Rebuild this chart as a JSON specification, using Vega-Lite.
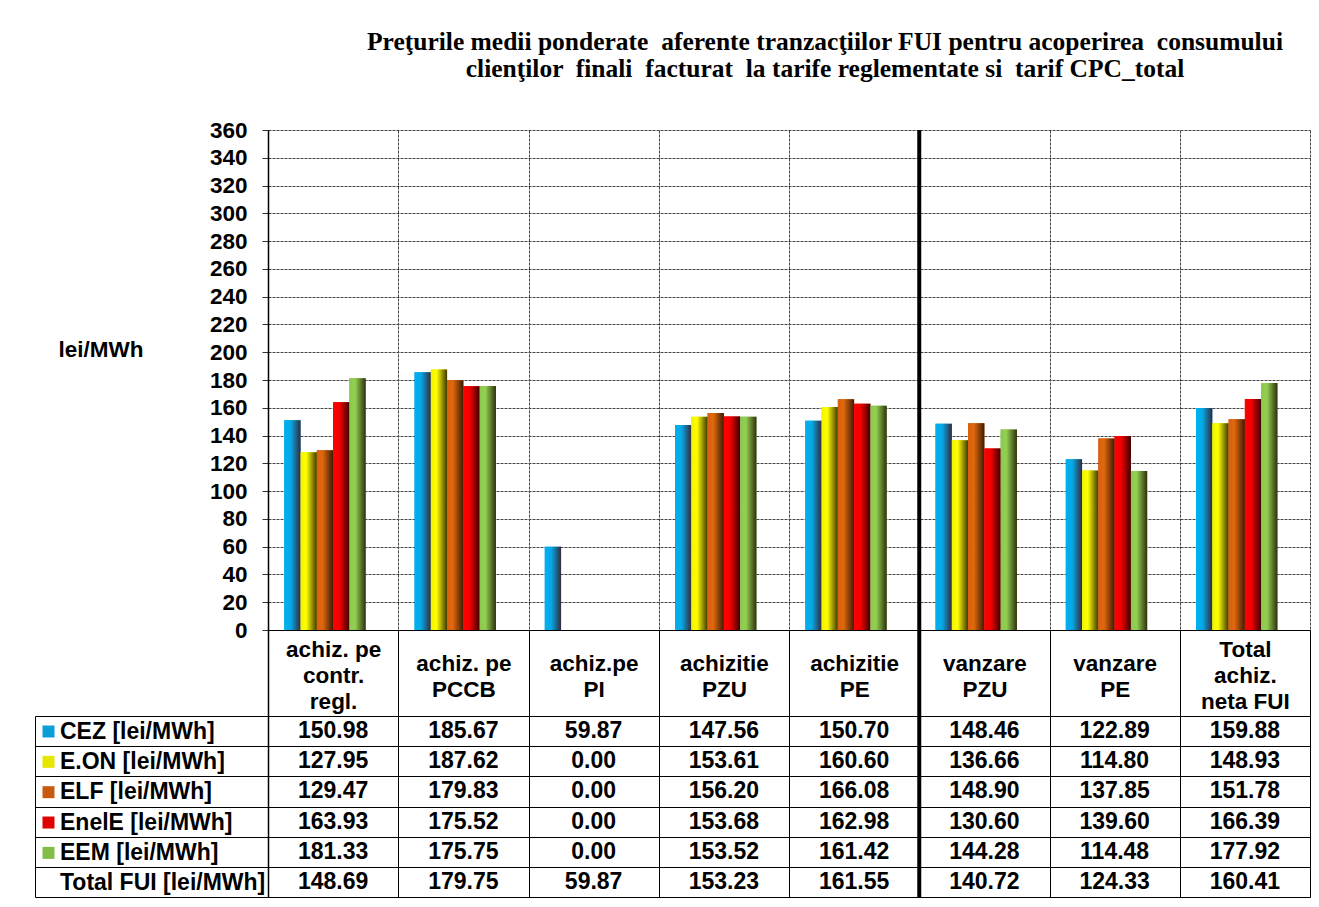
{
  "$schema": "https://vega.github.io/schema/vega-lite/v6.json",
  "width": 1042,
  "height": 767,
  "autosize": {"type": "none"},
  "padding": {"left": 268, "top": 130, "right": 9, "bottom": 10},
  "background": "white",
  "config": {"view": {"stroke": null}, "font": "Liberation Sans"},
  "title": {
    "text": ["Preţurile medii ponderate \u00a0aferente tranzacţiilor FUI pentru acoperirea \u00a0consumului", "clienţilor \u00a0finali \u00a0facturat \u00a0la tarife reglementate si \u00a0tarif CPC_total"],
    "font": "Liberation Serif",
    "fontSize": 25.5,
    "fontWeight": "bold",
    "color": "black",
    "lineHeight": 27,
    "anchor": "middle",
    "frame": "group",
    "dx": 36,
    "offset": 37
  },
  "datasets": {
    "vals": [
      {"cat": "achiz. pe|contr.|regl.", "series": "CEZ", "value": 150.98},
      {"cat": "achiz. pe|PCCB", "series": "CEZ", "value": 185.67},
      {"cat": "achiz.pe|PI", "series": "CEZ", "value": 59.87},
      {"cat": "achizitie|PZU", "series": "CEZ", "value": 147.56},
      {"cat": "achizitie|PE", "series": "CEZ", "value": 150.70},
      {"cat": "vanzare|PZU", "series": "CEZ", "value": 148.46},
      {"cat": "vanzare|PE", "series": "CEZ", "value": 122.89},
      {"cat": "Total|achiz.|neta FUI", "series": "CEZ", "value": 159.88},
      {"cat": "achiz. pe|contr.|regl.", "series": "E.ON", "value": 127.95},
      {"cat": "achiz. pe|PCCB", "series": "E.ON", "value": 187.62},
      {"cat": "achiz.pe|PI", "series": "E.ON", "value": 0.00},
      {"cat": "achizitie|PZU", "series": "E.ON", "value": 153.61},
      {"cat": "achizitie|PE", "series": "E.ON", "value": 160.60},
      {"cat": "vanzare|PZU", "series": "E.ON", "value": 136.66},
      {"cat": "vanzare|PE", "series": "E.ON", "value": 114.80},
      {"cat": "Total|achiz.|neta FUI", "series": "E.ON", "value": 148.93},
      {"cat": "achiz. pe|contr.|regl.", "series": "ELF", "value": 129.47},
      {"cat": "achiz. pe|PCCB", "series": "ELF", "value": 179.83},
      {"cat": "achiz.pe|PI", "series": "ELF", "value": 0.00},
      {"cat": "achizitie|PZU", "series": "ELF", "value": 156.20},
      {"cat": "achizitie|PE", "series": "ELF", "value": 166.08},
      {"cat": "vanzare|PZU", "series": "ELF", "value": 148.90},
      {"cat": "vanzare|PE", "series": "ELF", "value": 137.85},
      {"cat": "Total|achiz.|neta FUI", "series": "ELF", "value": 151.78},
      {"cat": "achiz. pe|contr.|regl.", "series": "EnelE", "value": 163.93},
      {"cat": "achiz. pe|PCCB", "series": "EnelE", "value": 175.52},
      {"cat": "achiz.pe|PI", "series": "EnelE", "value": 0.00},
      {"cat": "achizitie|PZU", "series": "EnelE", "value": 153.68},
      {"cat": "achizitie|PE", "series": "EnelE", "value": 162.98},
      {"cat": "vanzare|PZU", "series": "EnelE", "value": 130.60},
      {"cat": "vanzare|PE", "series": "EnelE", "value": 139.60},
      {"cat": "Total|achiz.|neta FUI", "series": "EnelE", "value": 166.39},
      {"cat": "achiz. pe|contr.|regl.", "series": "EEM", "value": 181.33},
      {"cat": "achiz. pe|PCCB", "series": "EEM", "value": 175.75},
      {"cat": "achiz.pe|PI", "series": "EEM", "value": 0.00},
      {"cat": "achizitie|PZU", "series": "EEM", "value": 153.52},
      {"cat": "achizitie|PE", "series": "EEM", "value": 161.42},
      {"cat": "vanzare|PZU", "series": "EEM", "value": 144.28},
      {"cat": "vanzare|PE", "series": "EEM", "value": 114.48},
      {"cat": "Total|achiz.|neta FUI", "series": "EEM", "value": 177.92},
      {"cat": "achiz. pe|contr.|regl.", "series": "Total FUI", "value": 148.69},
      {"cat": "achiz. pe|PCCB", "series": "Total FUI", "value": 179.75},
      {"cat": "achiz.pe|PI", "series": "Total FUI", "value": 59.87},
      {"cat": "achizitie|PZU", "series": "Total FUI", "value": 153.23},
      {"cat": "achizitie|PE", "series": "Total FUI", "value": 161.55},
      {"cat": "vanzare|PZU", "series": "Total FUI", "value": 140.72},
      {"cat": "vanzare|PE", "series": "Total FUI", "value": 124.33},
      {"cat": "Total|achiz.|neta FUI", "series": "Total FUI", "value": 160.41}
    ]
  },
  "data": {"name": "vals"},
  "layer": [
    {
      "transform": [{"filter": "datum.series != 'Total FUI'"}],
      "encoding": {
        "x": {
          "field": "cat", "type": "nominal", "sort": null,
          "scale": {"domain": ["achiz. pe|contr.|regl.", "achiz. pe|PCCB", "achiz.pe|PI", "achizitie|PZU", "achizitie|PE", "vanzare|PZU", "vanzare|PE", "Total|achiz.|neta FUI"], "paddingInner": 0, "paddingOuter": 0},
          "axis": {
            "orient": "bottom", "offset": -267, "title": null,
            "domain": true, "domainColor": "black", "domainWidth": 1,
            "ticks": true, "tickBand": "extent", "tickSize": 267, "tickColor": "black", "tickWidth": 1,
            "grid": true, "gridColor": "#444", "gridDash": [3, 1], "gridWidth": 1,
            "labelExpr": "split(datum.label, '|')",
            "labelAngle": 0, "labelFont": "Liberation Sans", "labelFontWeight": "bold", "labelFontSize": 22.5,
            "labelLineHeight": 26, "labelBaseline": "middle", "labelAlign": "center", "labelColor": "black",
            "labelPadding": {"condition": {"test": "length(split(datum.value, '|')) == 3", "value": -248}, "value": -234},
            "labelLimit": 0
          }
        },
        "xOffset": {
          "field": "series", "type": "nominal", "sort": null,
          "scale": {"domain": ["CEZ", "E.ON", "ELF", "EnelE", "EEM", "Total FUI"], "paddingInner": 0, "paddingOuter": 1.4}
        },
        "y": {
          "field": "value", "type": "quantitative",
          "scale": {"domain": [-192.24, 360], "nice": false, "zero": false},
          "axis": {
            "values": [0, 20, 40, 60, 80, 100, 120, 140, 160, 180, 200, 220, 240, 260, 280, 300, 320, 340, 360],
            "grid": true, "gridColor": "#444", "gridDash": [3, 1], "gridWidth": 1,
            "domain": true, "domainColor": "black", "domainWidth": 1.5,
            "ticks": true, "tickSize": 6, "tickColor": "#333",
            "labelFont": "Liberation Sans", "labelFontWeight": "bold", "labelFontSize": 22.5, "labelColor": "black", "labelPadding": 15,
            "title": "lei/MWh", "titleAngle": 0, "titleAlign": "left", "titleBaseline": "middle",
            "titleX": -210, "titleY": 219, "titleFont": "Liberation Sans", "titleFontSize": 22.5, "titleFontWeight": "bold", "titleColor": "black"
          }
        }
      },
      "layer": [
        {
          "mark": {"type": "bar", "strokeWidth": 0},
          "encoding": {
            "fill": {
              "field": "series", "type": "nominal", "sort": null,
              "scale": {
                "domain": ["CEZ", "E.ON", "ELF", "EnelE", "EEM", "Total FUI"],
                "range": ["#0a9fd8", "#e6e600", "#c85a10", "#e00000", "#84bc48", "transparent"]
              },
              "legend": {
                "orient": "none", "legendX": -231, "legendY": 590, "title": null, "padding": 0,
                "symbolType": "square", "symbolSize": 144, "symbolStrokeWidth": 0, "symbolOpacity": 1,
                "labelFont": "Liberation Sans", "labelFontSize": 23, "labelFontWeight": "bold", "labelColor": "black",
                "labelOffset": 0, "rowPadding": 6.34, "labelLimit": 400,
                "labelExpr": "datum.label + ' [lei/MWh]'"
              }
            }
          }
        },
        {
          "mark": {"type": "bar", "strokeWidth": 0},
          "encoding": {
            "fill": {
              "condition": [
                {"test": "datum.series === 'CEZ'", "value": {"gradient": "linear", "stops": [{"offset": 0, "color": "#00b0f0"}, {"offset": 0.4, "color": "#06a8e6"}, {"offset": 1, "color": "#332a3c"}]}},
                {"test": "datum.series === 'E.ON'", "value": {"gradient": "linear", "stops": [{"offset": 0, "color": "#f2f200"}, {"offset": 0.35, "color": "#ffff00"}, {"offset": 1, "color": "#3f3800"}]}},
                {"test": "datum.series === 'ELF'", "value": {"gradient": "linear", "stops": [{"offset": 0, "color": "#d86010"}, {"offset": 0.35, "color": "#e0680c"}, {"offset": 1, "color": "#3c1c04"}]}},
                {"test": "datum.series === 'EnelE'", "value": {"gradient": "linear", "stops": [{"offset": 0, "color": "#ff0000"}, {"offset": 0.4, "color": "#f00000"}, {"offset": 1, "color": "#3c0000"}]}}
              ],
              "value": {"gradient": "linear", "stops": [{"offset": 0, "color": "#8cc850"}, {"offset": 0.35, "color": "#92d050"}, {"offset": 1, "color": "#30300e"}]}
            }
          }
        }
      ]
    },
    {
      "mark": {"type": "text", "font": "Liberation Sans", "fontWeight": "bold", "fontSize": 23, "color": "black", "baseline": "middle", "align": "center"},
      "encoding": {
        "x": {"field": "cat", "type": "nominal", "sort": null},
        "y": {
          "field": "series", "type": "nominal", "sort": null,
          "scale": {"domain": ["CEZ", "E.ON", "ELF", "EnelE", "EEM", "Total FUI"], "range": [586, 767], "paddingInner": 0, "paddingOuter": 0},
          "axis": {
            "orient": "left", "offset": 233, "title": null, "labels": false,
            "domain": true, "domainColor": "black", "domainWidth": 1,
            "ticks": true, "tickSize": -233, "tickBand": "extent", "tickColor": "black", "tickWidth": 1,
            "grid": true, "gridColor": "black", "gridWidth": 1
          }
        },
        "text": {"field": "value", "type": "quantitative", "format": ".2f"}
      }
    },
    {
      "data": {"values": [{"cat": "vanzare|PZU"}]},
      "mark": {"type": "rule", "color": "black", "strokeWidth": 4},
      "encoding": {
        "x": {"field": "cat", "type": "nominal", "bandPosition": 0}
      }
    }
  ],
  "resolve": {"scale": {"y": "independent"}, "axis": {"y": "independent"}}
}
